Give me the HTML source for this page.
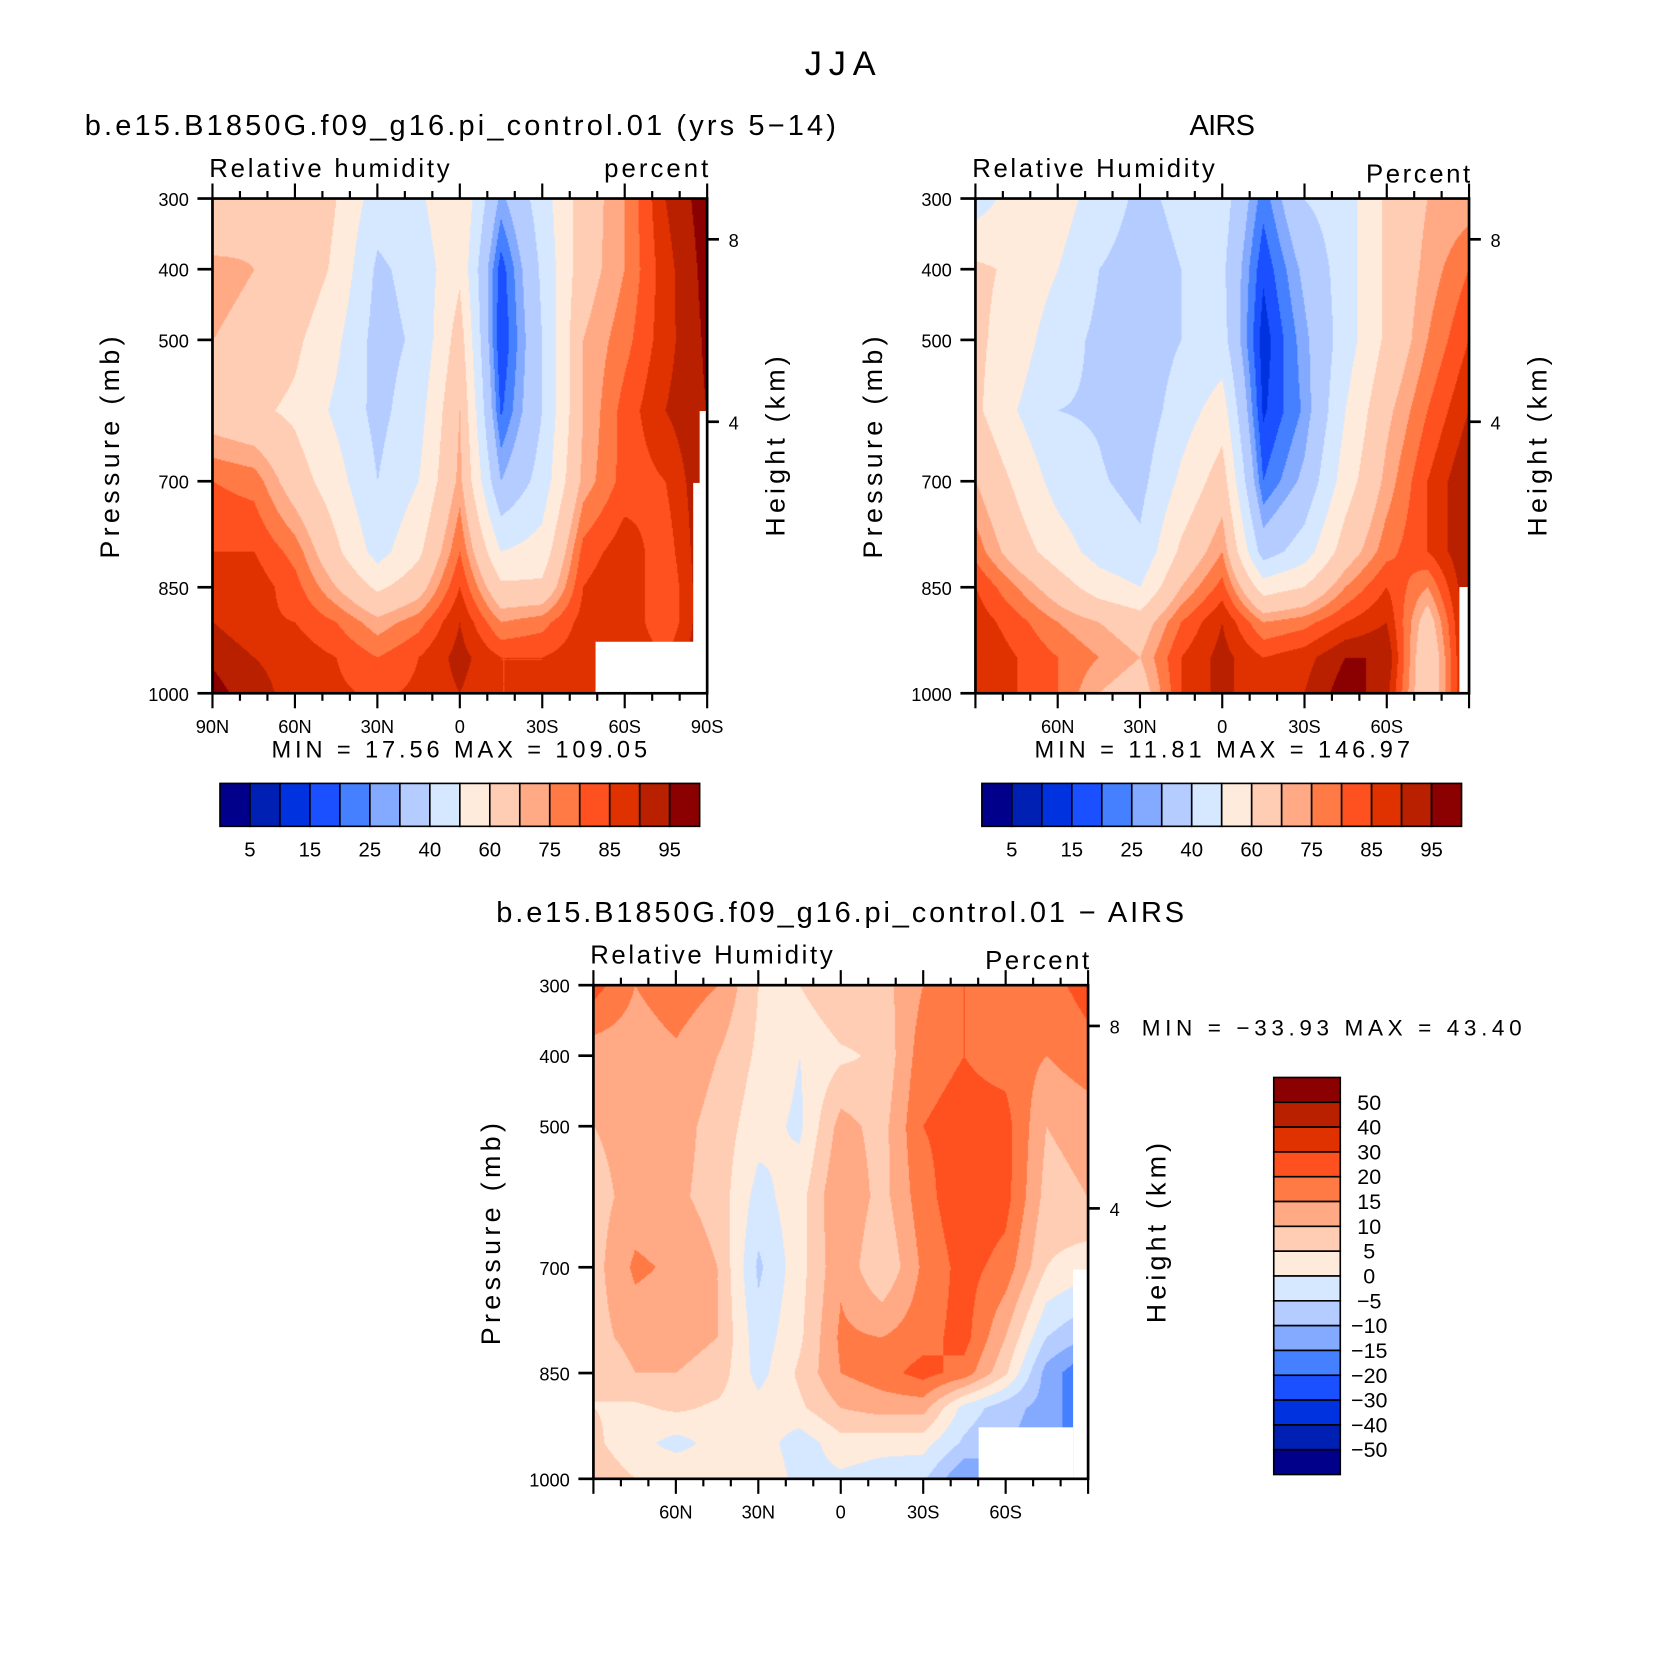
<!DOCTYPE html>
<html><head><meta charset="utf-8">
<style>
html,body{margin:0;padding:0;background:#fff;}
body{width:1674px;height:1672px;overflow:hidden;position:relative;}
#wrap{position:absolute;left:0;top:0;width:1560px;height:1558px;transform:scale(1.07308,1.07317);transform-origin:0 0;}
canvas{position:absolute;}
svg{position:absolute;left:0;top:0;}
text{font-family:"Liberation Sans",sans-serif;fill:#000;}
</style></head>
<body>
<div id="wrap">
<canvas id="c1" width="461" height="461" style="left:198px;top:185px"></canvas>
<canvas id="c2" width="460" height="461" style="left:909px;top:185px"></canvas>
<canvas id="c3" width="461" height="460" style="left:553px;top:918px"></canvas>
<svg id="ov" width="1560" height="1558" viewBox="0 0 1560 1558"></svg>
</div>
<script>
// ---- data ----
const lats = [90,75,60,45,30,15,0,-15,-30,-45,-60,-75,-90];
const pressures = [300,400,500,600,700,800,850,900,950,1000];
const rhLevels = [5,10,15,20,25,30,40,50,60,70,75,80,85,90,95];
const rhLabels = ["5","15","25","40","60","75","85","95"];
const diffLevels = [-50,-40,-30,-20,-15,-10,-5,0,5,10,15,20,30,40,50];
const diffLabels = ["50","40","30","20","15","10","5","0","-5","-10","-15","-20","-30","-40","-50"];
const palette = ["#00008b","#0020b4","#0032e0","#1a50ff","#4480ff","#84aaff","#b4ccff","#d6e8ff","#ffebdb","#ffccb4","#ffa985","#ff7a45","#ff5020","#e03200","#b82000","#8b0000"];
// rows: pressure levels; columns: lats
const modelRH = [
 [62,68,70,60,45,48,60,28,45,65,75,90,98],
 [72,70,68,58,38,44,58,17,42,66,75,88,97],
 [70,68,62,52,36,42,65,15,40,70,78,88,96],
 [65,62,58,48,37,46,70,19,40,70,82,90,95],
 [80,78,65,54,40,50,72,30,44,72,82,85,95],
 [85,85,78,62,46,58,80,50,54,82,88,82,95],
 [88,88,82,70,58,66,85,62,62,85,90,80,95],
 [90,86,85,80,72,78,90,75,78,87,90,80,95],
 [94,90,88,85,80,85,92,85,85,88,90,85,95],
 [97,92,88,86,84,86,90,85,85,88,90,85,95]];
const airsRH = [
 [45,55,55,45,38,42,45,22,40,45,62,70,72],
 [62,58,50,40,36,40,42,16,32,45,62,72,80],
 [62,55,44,38,34,40,44,12,28,45,62,75,85],
 [62,50,40,39,34,45,55,14,26,50,68,80,90],
 [70,58,46,41,37,52,65,20,32,55,72,85,95],
 [78,65,55,46,42,62,75,35,45,65,78,85,95],
 [85,75,65,55,50,70,82,55,60,75,85,75,95],
 [88,82,75,70,65,80,90,75,78,85,90,65,95],
 [90,85,80,75,70,85,92,85,88,95,95,60,95],
 [90,85,80,70,65,85,92,85,90,98,92,60,95]];
const diffRH = [
 [22,15,18,15,5,5,10,8,15,20,15,18,22],
 [12,12,14,10,4,0,4,6,18,20,18,15,18],
 [10,12,12,8,2,-1,12,8,20,22,22,10,12],
 [8,12,11,8,-2,3,15,8,18,24,22,8,10],
 [8,16,14,10,-6,3,14,5,16,22,18,5,2],
 [8,12,12,10,-3,4,16,15,18,22,10,-5,-10],
 [5,10,10,8,-2,6,15,18,22,18,6,-12,-20],
 [5,4,6,4,2,4,10,12,12,-2,-8,-12,-20],
 [6,2,-2,2,3,-3,3,2,2,-6,-10,-12,-20],
 [8,5,5,4,5,-2,-1,-3,-4,-15,-10,-12,-20]];

function drawField(id, grid, lv){
  const cv=document.getElementById(id), ctx=cv.getContext('2d');
  const W=cv.width,H=cv.height, img=ctx.createImageData(W,H);
  const pal = palette.map(c=>[parseInt(c.slice(1,3),16),parseInt(c.slice(3,5),16),parseInt(c.slice(5,7),16)]);
  for(let y=0;y<H;y++){
    const p=300+y/(H-1)*700;
    let j=0;while(j<pressures.length-2&&p>pressures[j+1])j++;
    const ty=(p-pressures[j])/(pressures[j+1]-pressures[j]);
    for(let x=0;x<W;x++){
      const l=90-x/(W-1)*180;
      let i=0;while(i<lats.length-2&&l<lats[i+1])i++;
      const tx=(lats[i]-l)/(lats[i]-lats[i+1]);
      const v=(grid[j][i]*(1-tx)+grid[j][i+1]*tx)*(1-ty)+(grid[j+1][i]*(1-tx)+grid[j+1][i+1]*tx)*ty;
      let k=0;while(k<lv.length&&v>=lv[k])k++;
      const c=pal[k],o=(y*W+x)*4;
      img.data[o]=c[0];img.data[o+1]=c[1];img.data[o+2]=c[2];img.data[o+3]=255;
    }
  }
  ctx.putImageData(img,0,0);
}
drawField('c1',modelRH,rhLevels);
drawField('c2',airsRH,rhLevels);
drawField('c3',diffRH,diffLevels);

const NS='http://www.w3.org/2000/svg', svg=document.getElementById('ov');
function el(tag,attrs,txt){const e=document.createElementNS(NS,tag);for(const k in attrs)e.setAttribute(k,attrs[k]);if(txt!==undefined)e.textContent=txt;svg.appendChild(e);return e;}
function txt(x,y,s,size,anchor,name,rot,len){
  const a={x:x,y:y,'font-size':size,'text-anchor':anchor||'start'};
  if(rot)a.transform='rotate(-90 '+x+' '+y+')';
  if(len){a.textLength=len;a.lengthAdjust='spacing';}
  const t=el('text',a,s);
  
  
  return t;
}
function panel(x0,y0,w,h,opt){
  opt.masks.forEach(m=>{const r=el('rect',{x:x0+m[0],y:y0+m[1],width:m[2],height:m[3],fill:'#fff'});
    });
  const f=el('rect',{x:x0,y:y0,width:w,height:h,fill:'none',stroke:'#000','stroke-width':2.5});
  
  const X=l=>x0+(90-l)/180*w, Y=p=>y0+(p-300)/700*h;
  for(let l=90;l>=-90;l-=10){
    const maj=(l%30===0), len=maj?14:7;
    el('line',{x1:X(l),x2:X(l),y1:y0,y2:y0-len,stroke:'#000','stroke-width':2});
    el('line',{x1:X(l),x2:X(l),y1:y0+h,y2:y0+h+len,stroke:'#000','stroke-width':2});
    if(maj && opt.latLabels.includes(l)){
      const s=l===0?'0':(Math.abs(l)+(l>0?'N':'S'));
      txt(X(l),y0+h+37,s,17,'middle','lat-tick-label');
    }
  }
  [300,400,500,700,850,1000].forEach(p=>{
    el('line',{x1:x0,x2:x0-14,y1:Y(p),y2:Y(p),stroke:'#000','stroke-width':2.5});
    txt(x0-22,Y(p)+7,String(p),17,'end','pressure-tick-label');
  });
  [[8,223-185],[4,393-185]].forEach(k=>{
    el('line',{x1:x0+w,x2:x0+w+11,y1:y0+k[1],y2:y0+k[1],stroke:'#000','stroke-width':2.5});
    txt(x0+w+20,y0+k[1]+7,String(k[0]),17,'start','height-tick-label');
  });
  txt(x0-87,y0+232,'Pressure  (mb)',25,'middle','y-axis-title',true,207);
  txt(x0+w+72,y0+231,'Height  (km)',25,'middle','right-axis-title',true,168);
  txt(x0-3,y0-20,opt.lname,24,'start','variable-name',false,opt.lnameLen);
  txt(x0+w+1,opt.unitsY,opt.units,24,'end','units-label',false,97);
  txt(opt.titleX,y0-59,opt.title,27,'middle','panel-title',false,opt.titleLen);
}
function hbar(x0,y0,w,h){
  const bw=w/16;
  for(let i=0;i<16;i++){const r=el('rect',{x:x0+i*bw,y:y0,width:bw,height:h,fill:palette[i],stroke:'#000','stroke-width':1.5});
    }
  rhLabels.forEach((s,k)=>txt(x0+(2*k+1)*bw,y0+h+28,s,19,'middle','colorbar-label'));
}
txt(783,70,'JJA',32,'middle','figure-title',false,66);
panel(198,185,461,461,{title:'b.e15.B1850G.f09_g16.pi_control.01 (yrs 5\u221214)',titleX:429,titleLen:700,lname:'Relative humidity',lnameLen:224,units:'percent',unitsY:165,
  latLabels:[90,60,30,0,-30,-60,-90],masks:[[357,413,100,48],[448,265,13,196],[454,198,7,70]]});
txt(428,706,'MIN =    17.56   MAX  =  109.05',22,'middle','min-max-label',false,350);
hbar(205,730,447,40);
panel(909,185,460,461,{title:'AIRS',titleX:1139,titleLen:61,lname:'Relative Humidity',lnameLen:226,units:'Percent',unitsY:170,
  latLabels:[60,30,0,-30,-60],masks:[[451,362,9,99]]});
txt(1139,706,'MIN =    11.81   MAX  =  146.97',22,'middle','min-max-label',false,350);
hbar(915,730,447,40);
panel(553,918,461,460,{title:'b.e15.B1850G.f09_g16.pi_control.01 \u2212 AIRS',titleX:783,titleLen:641,lname:'Relative Humidity',lnameLen:226,units:'Percent',unitsY:903,
  latLabels:[60,30,0,-30,-60],masks:[[359,412,88,48],[447,265,14,195]]});
txt(1064,965,'MIN  =  \u221233.93    MAX  =    43.40',21,'start','min-max-label',false,354);
const vb=370/16;
for(let i=0;i<16;i++){const r=el('rect',{x:1187,y:1004+i*vb,width:62,height:vb,fill:palette[15-i],stroke:'#000','stroke-width':1.5});
  }
diffLabels.forEach((s,k)=>txt(1276,1004+(k+1)*vb+7,s.replace('-','\u2212'),20,'middle','colorbar-label'));
</script>
</body></html>
